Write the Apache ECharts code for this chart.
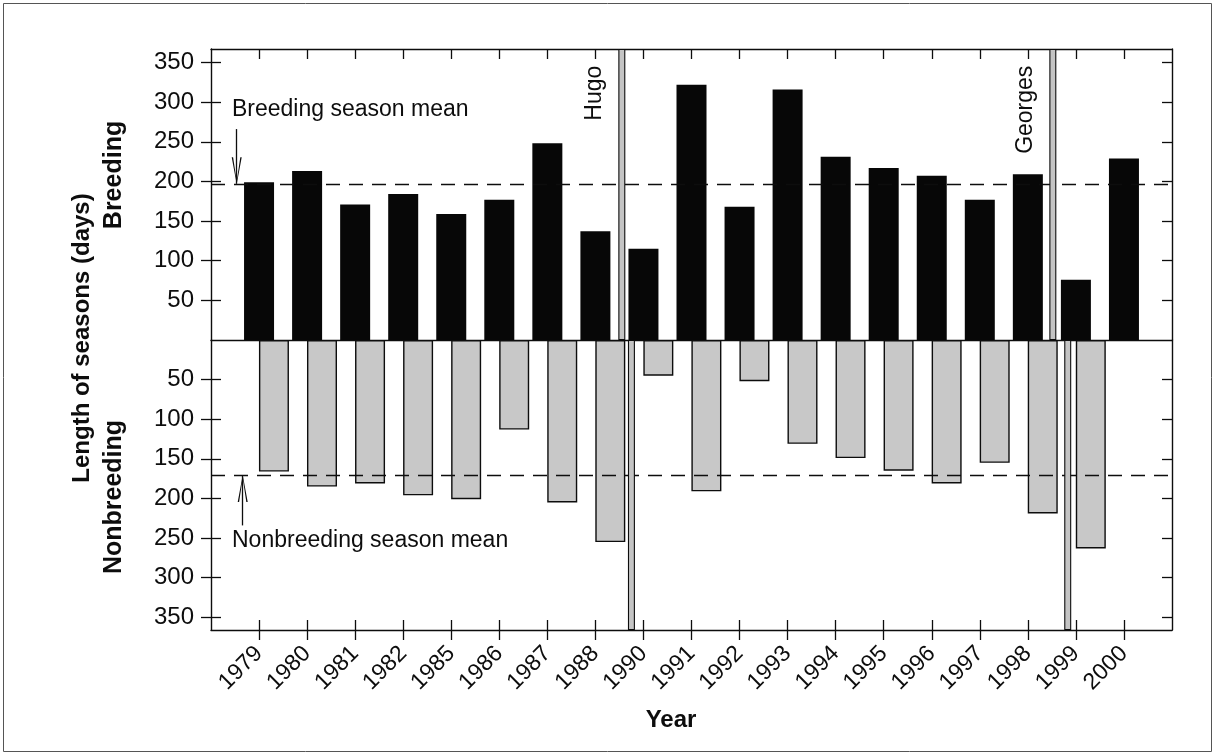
<!DOCTYPE html>
<html>
<head>
<meta charset="utf-8">
<script src="https://cdn.jsdelivr.net/npm/echarts@6/dist/echarts.min.js"></script>
<style>
  html, body { margin: 0; padding: 0; background: #fff; }
  #chart { width: 1215px; height: 755px; }
</style>
</head>
<body>
<div id="chart"></div>
<script>
// Season lengths (days) per year
const years = ['1979', '1980', '1981', '1982', '1985', '1986', '1987', '1988', '1990', '1991',
               '1992', '1993', '1994', '1995', '1996', '1997', '1998', '1999', '2000'];
const breedingDays    = [199, 213, 171, 184, 159, 177, 248, 137, 115, 322, 168, 316, 231, 217, 207, 177, 209, 76, 229];
const nonbreedingDays = [166, 185, 181, 196, 201, 113, 205, 255, 45, 191, 52, 131, 149, 165, 181, 155, 219, 263, null];
const breedingMean = 197;
const nonbreedingMean = 171;
const dayTicks = [50, 100, 150, 200, 250, 300, 350];
// Hurricanes: the season boundary they fell on, as a fraction of the gap after a given year
const hurricanes = [
  { name: 'Hugo',    after: '1988', breedingFrac: 0.55, nonbreedingFrac: 0.75 },
  { name: 'Georges', after: '1998', breedingFrac: 0.52, nonbreedingFrac: 0.83 }
];

const FONT = "'Liberation Sans', Arial, Helvetica, sans-serif";
const INK = '#0d0d0d';
const X_MAX = years.length + 1;
const Y_MAX_TOP = 367;
const Y_MAX_BOTTOM = 366;
const NONBREEDING_SHIFT = 0.31;   // nonbreeding bars sit half a bar to the right
const yearIdx = years.map((_, i) => i + 1);
const posOf = y => years.indexOf(y) + 1;

const chevron = 'path://M5,0 L10,28 L8.6,28 L5,3.5 L1.4,28 L0,28 Z';
const frameLine = { show: true, onZero: false, lineStyle: { color: INK, width: 1.4 } };

function xAxisCfg(grid, extra) {
  return Object.assign({
    type: 'value', gridIndex: grid, min: 0, max: X_MAX, interval: 1,
    splitLine: { show: false },
    axisLine: { show: false, onZero: false },
    axisTick: { show: false },
    axisLabel: { show: false }
  }, extra);
}
function yAxisCfg(grid, max, extra) {
  return Object.assign({
    type: 'value', gridIndex: grid, min: 0, max: max, interval: 50,
    inverse: grid === 1,
    splitLine: { show: false },
    axisLine: { show: false, onZero: false },
    axisTick: { show: false },
    axisLabel: { show: false }
  }, extra);
}
const tickIn = vals => ({ show: true, inside: true, length: 10, customValues: vals, lineStyle: { color: INK, width: 1.3 } });
const tickOut = vals => ({ show: true, inside: false, length: 10, customValues: vals, lineStyle: { color: INK, width: 1.3 } });
const yLabels = {
  show: true, customValues: dayTicks, margin: 17,
  fontSize: 24, fontFamily: FONT, color: INK
};
const titleFont = size => 'bold ' + size + "px 'Liberation Sans', Arial, sans-serif";
const noteLabel = { show: true, formatter: '{b}', position: 'right', distance: 0, fontSize: 23, fontFamily: FONT, color: INK };

const option = {
  animation: false,
  backgroundColor: '#fff',
  grid: [
    { left: 211, top: 49, width: 961, height: 291 },
    { left: 211, top: 340, width: 961, height: 290 }
  ],
  xAxis: [
    xAxisCfg(0, { position: 'bottom', axisLine: frameLine }),
    xAxisCfg(0, { position: 'top', axisLine: frameLine, axisTick: tickIn(yearIdx) }),
    xAxisCfg(1, {
      position: 'bottom',
      axisLine: frameLine,
      axisTick: tickOut(yearIdx),
      axisLabel: {
        show: true, customValues: yearIdx, rotate: 45, margin: 20,
        formatter: v => years[v - 1] || '',
        fontSize: 23, fontFamily: FONT, color: INK
      }
    }),
    xAxisCfg(1, { position: 'bottom', axisTick: tickIn(yearIdx) })
  ],
  yAxis: [
    yAxisCfg(0, Y_MAX_TOP, { position: 'left', axisLine: frameLine, axisTick: tickOut(dayTicks), axisLabel: yLabels }),
    yAxisCfg(0, Y_MAX_TOP, { position: 'left', axisTick: tickIn(dayTicks) }),
    yAxisCfg(0, Y_MAX_TOP, { position: 'right', axisLine: frameLine, axisTick: tickIn(dayTicks) }),
    yAxisCfg(1, Y_MAX_BOTTOM, { position: 'left', axisLine: frameLine, axisTick: tickOut(dayTicks), axisLabel: yLabels }),
    yAxisCfg(1, Y_MAX_BOTTOM, { position: 'left', axisTick: tickIn(dayTicks) }),
    yAxisCfg(1, Y_MAX_BOTTOM, { position: 'right', axisLine: frameLine, axisTick: tickIn(dayTicks) })
  ],
  series: [
    {
      name: 'Breeding', type: 'bar', xAxisIndex: 0, yAxisIndex: 0,
      barWidth: 30, z: 2,
      itemStyle: { color: '#070707' },
      data: years.map((y, i) => [i + 1, breedingDays[i]]),
      markLine: {
        silent: true, symbol: ['none', 'none'], z: 6,
        label: { show: false },
        lineStyle: { color: INK, width: 1.3, type: [14, 9] },
        data: [
          { yAxis: breedingMean },
          [
            { coord: [0.535, 266], symbol: 'none' },
            { coord: [0.535, breedingMean], symbol: chevron, symbolSize: [10, 27], symbolOffset: [0, 13],
              lineStyle: { type: 'solid', width: 1.3, color: INK } }
          ]
        ]
      }
    },
    {
      name: 'Nonbreeding', type: 'bar', xAxisIndex: 2, yAxisIndex: 3,
      barWidth: 30, z: 2,
      itemStyle: { color: '#c8c8c8', borderColor: INK, borderWidth: 1.4 },
      data: years.map((y, i) => [i + 1 + NONBREEDING_SHIFT, nonbreedingDays[i]]),
      markLine: {
        silent: true, symbol: ['none', 'none'], z: 6,
        label: { show: false },
        lineStyle: { color: INK, width: 1.3, type: [14, 9] },
        data: [
          { yAxis: nonbreedingMean },
          [
            { coord: [0.66, 234], symbol: 'none' },
            { coord: [0.66, nonbreedingMean], symbol: chevron, symbolSize: [10, 27], symbolOffset: [0, 13],
              lineStyle: { type: 'solid', width: 1.3, color: INK } }
          ]
        ]
      }
    },
    {
      name: 'Hurricane (breeding)', type: 'bar', xAxisIndex: 1, yAxisIndex: 0,
      barWidth: 7, z: 7,
      itemStyle: { color: '#c4c4c4', borderColor: INK, borderWidth: 1.1 },
      data: hurricanes.map(h => [posOf(h.after) + h.breedingFrac, Y_MAX_TOP])
    },
    {
      name: 'Hurricane (nonbreeding)', type: 'bar', xAxisIndex: 3, yAxisIndex: 3,
      barWidth: 7, z: 7,
      itemStyle: { color: '#c4c4c4', borderColor: INK, borderWidth: 1.1 },
      data: hurricanes.map(h => [posOf(h.after) + h.nonbreedingFrac, Y_MAX_BOTTOM])
    },
    {
      name: 'Hurricane names', type: 'scatter', xAxisIndex: 0, yAxisIndex: 0,
      symbolSize: 0, silent: true, z: 8,
      itemStyle: { opacity: 1 },
      label: {
        show: true, formatter: '{b}', position: 'inside', rotate: 90,
        align: 'right', verticalAlign: 'middle',
        fontSize: 23, fontFamily: FONT, color: INK
      },
      data: hurricanes.map(h => ({ name: h.name, value: [posOf(h.after) + h.breedingFrac - 0.56, 346] }))
    },
    {
      name: 'Breeding note', type: 'scatter', xAxisIndex: 0, yAxisIndex: 0,
      symbolSize: 0, silent: true, z: 8,
      itemStyle: { opacity: 1 },
      label: noteLabel,
      data: [{ name: 'Breeding season mean', value: [0.437, 290] }]
    },
    {
      name: 'Nonbreeding note', type: 'scatter', xAxisIndex: 2, yAxisIndex: 3,
      symbolSize: 0, silent: true, z: 8,
      itemStyle: { opacity: 1 },
      label: noteLabel,
      data: [{ name: 'Nonbreeding season mean', value: [0.437, 253] }]
    }
  ],
  graphic: [
    { type: 'rect', silent: true, shape: { x: 3.5, y: 3.5, width: 1208, height: 748 },
      style: { fill: 'none', stroke: '#555', lineWidth: 1 } },
    { type: 'text', silent: true, x: 82, y: 338, rotation: Math.PI / 2,
      style: { text: 'Length of seasons (days)', font: titleFont(24), align: 'center', verticalAlign: 'middle', fill: INK } },
    { type: 'text', silent: true, x: 114, y: 175, rotation: Math.PI / 2,
      style: { text: 'Breeding', font: titleFont(25), align: 'center', verticalAlign: 'middle', fill: INK } },
    { type: 'text', silent: true, x: 114, y: 497, rotation: Math.PI / 2,
      style: { text: 'Nonbreeding', font: titleFont(25), align: 'center', verticalAlign: 'middle', fill: INK } },
    { type: 'text', silent: true, x: 671, y: 720,
      style: { text: 'Year', font: titleFont(24), align: 'center', verticalAlign: 'middle', fill: INK } }
  ]
};

const chart = echarts.init(document.getElementById('chart'), null, { renderer: 'canvas' });
chart.setOption(option);
</script>
</body>
</html>
